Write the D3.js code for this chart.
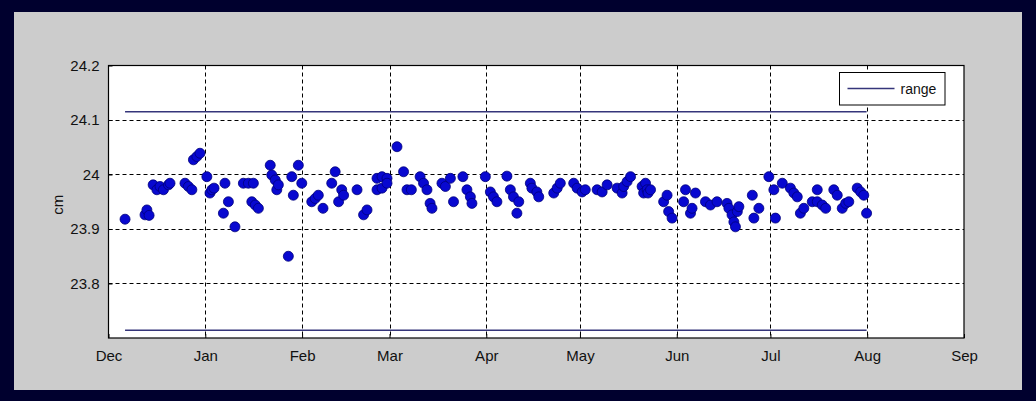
<!DOCTYPE html>
<html>
<head>
<meta charset="utf-8">
<script src="https://cdn.jsdelivr.net/npm/d3@7"></script>
<style>
  html, body { margin: 0; padding: 0; background: #00002e; }
  svg { display: block; }
  text { font-family: "Liberation Sans", Arial, sans-serif; fill: #111; }
</style>
</head>
<body>
<svg id="chart" width="1036" height="401"></svg>
<script>
// Observation times, in days after 1 Dec 2010 (fractional days allowed)
const obsDay = [
  5.3, 11.7, 12.3, 13.0, 14.3, 15.5, 16.5, 17.6, 19.2, 19.7,
  24.5, 25.6, 26.7, 27.2, 28.3, 29.3, 31.5, 32.5, 33.1, 33.8,
  36.8, 37.3, 38.4, 40.5, 43.2, 44.8, 46.4, 45.9, 47.0, 48.0,
  51.8, 52.3, 53.4, 53.9, 54.4, 57.6, 58.7, 59.2, 60.8, 61.9,
  65.1, 66.2, 67.2, 68.7, 71.5, 72.6, 73.7, 74.7, 75.3, 79.6,
  81.7, 82.8, 86.0, 86.0, 87.6, 87.6, 89.2, 89.2, 92.4, 94.5,
  95.6, 97.0, 99.8, 100.9, 102.0, 103.0, 103.6, 106.8, 107.9, 109.5,
  110.5, 113.5, 114.8, 115.9, 116.4, 120.7, 122.3, 123.3, 124.4, 127.6,
  128.7, 129.7, 130.8, 131.4, 135.1, 135.6, 137.2, 137.8, 142.6, 143.7,
  144.7, 149.0, 150.1, 151.7, 152.7, 156.5, 158.1, 159.7, 162.9, 164.5,
  165.0, 166.1, 167.2, 170.9, 171.4, 172.0, 172.5, 172.8, 173.6, 177.8,
  178.9, 179.4, 180.5, 184.2, 184.8, 186.4, 186.9, 188.0, 191.2, 192.8,
  194.9, 198.1, 198.7, 199.7, 200.3, 200.8, 201.4, 201.9, 206.2, 206.7,
  208.3, 211.5, 213.1, 213.6, 215.8, 218.4, 219.5, 220.6, 221.6, 222.7,
  225.4, 227.0, 227.0, 228.6, 229.7, 232.3, 233.4, 235.0, 236.1, 237.1,
  239.8, 240.9, 241.9, 242.8
];

// Measured length in cm for each observation
const obsCm = [
  23.918, 23.926, 23.935, 23.925, 23.981, 23.972, 23.978, 23.972, 23.981, 23.984,
  23.984, 23.978, 23.972, 24.027, 24.033, 24.039, 23.996, 23.966, 23.972, 23.975,
  23.929, 23.984, 23.950, 23.904, 23.984, 23.984, 23.984, 23.950, 23.944, 23.938,
  24.017, 23.999, 23.990, 23.972, 23.981, 23.850, 23.996, 23.962, 24.017, 23.984,
  23.950, 23.956, 23.962, 23.938, 23.984, 24.005, 23.950, 23.972, 23.962, 23.972,
  23.926, 23.935, 23.993, 23.972, 23.996, 23.975, 23.993, 23.984, 24.051, 24.005,
  23.972, 23.972, 23.996, 23.984, 23.972, 23.947, 23.938, 23.984, 23.978, 23.993,
  23.950, 23.996, 23.972, 23.959, 23.947, 23.996, 23.968, 23.959, 23.950, 23.997,
  23.972, 23.959, 23.929, 23.950, 23.984, 23.975, 23.968, 23.959, 23.966, 23.975,
  23.984, 23.984, 23.975, 23.968, 23.972, 23.972, 23.968, 23.981, 23.975, 23.966,
  23.978, 23.987, 23.996, 23.978, 23.966, 23.984, 23.972, 23.966, 23.972, 23.950,
  23.962, 23.932, 23.920, 23.950, 23.972, 23.929, 23.938, 23.966, 23.950, 23.944,
  23.950, 23.947, 23.938, 23.926, 23.913, 23.904, 23.932, 23.941, 23.962, 23.920,
  23.938, 23.996, 23.972, 23.920, 23.984, 23.975, 23.966, 23.959, 23.929, 23.938,
  23.950, 23.950, 23.972, 23.944, 23.938, 23.972, 23.962, 23.938, 23.947, 23.950,
  23.975, 23.968, 23.962, 23.929
];

// Tolerance band drawn as the "range" lines
const rangeLimits = [23.714, 24.115];

// Axis extents and tick labels
const seasonStart = "2010-12-01";
const seasonEnd = "2011-09-01";
const yDomain = [23.7, 24.2];
const yTicks = [23.8, 23.9, 24.0, 24.1, 24.2];
const yLabel = "cm";
const legendLabel = "range";

const svg = d3.select("#chart");
const W = 1036, H = 401;

// Gray figure panel
svg.append("rect")
  .attr("x", 14).attr("y", 12)
  .attr("width", 1008).attr("height", 378)
  .attr("fill", "#cccccc");

const plot = { left: 108.5, right: 964, top: 65.5, bottom: 338 };

const t0 = new Date(seasonStart + "T00:00:00Z");
const t1 = new Date(seasonEnd + "T00:00:00Z");
const toDate = d => new Date(t0.getTime() + d * 864e5);

const x = d3.scaleUtc().domain([t0, t1]).range([plot.left, plot.right]);
const y = d3.scaleLinear().domain(yDomain).range([plot.bottom, plot.top]);

const points = obsDay.map((d, i) => ({ t: toDate(d), v: obsCm[i] }));

// White axes area
svg.append("rect")
  .attr("x", plot.left).attr("y", plot.top)
  .attr("width", plot.right - plot.left).attr("height", plot.bottom - plot.top)
  .attr("fill", "#ffffff");

// Dashed grid
const months = d3.utcMonth.range(t0, d3.utcDay.offset(t1, 1));
const innerMonths = months.filter(m => +m !== +t0 && +m !== +t1);
const gridY = yTicks.filter(v => v < yDomain[1]);

const grid = svg.append("g")
  .attr("stroke", "#000")
  .attr("stroke-width", 1)
  .attr("stroke-dasharray", "4,3");

grid.selectAll("line.gx").data(innerMonths).join("line")
  .attr("class", "gx")
  .attr("x1", d => Math.round(x(d)) + 0.5).attr("x2", d => Math.round(x(d)) + 0.5)
  .attr("y1", plot.top).attr("y2", plot.bottom);

grid.selectAll("line.gy").data(gridY).join("line")
  .attr("class", "gy")
  .attr("x1", plot.left).attr("x2", plot.right)
  .attr("y1", d => Math.round(y(d)) + 0.5).attr("y2", d => Math.round(y(d)) + 0.5);

// Range lines spanning the observation period
const rangeColor = "#35357a";
const firstT = points[0].t;
const lastT = points[points.length - 1].t;
svg.append("g").selectAll("line").data(rangeLimits).join("line")
  .attr("x1", x(firstT)).attr("x2", x(lastT))
  .attr("y1", d => y(d)).attr("y2", d => y(d))
  .attr("stroke", rangeColor)
  .attr("stroke-width", 1.5);

// Observations
svg.append("g").selectAll("circle").data(points).join("circle")
  .attr("cx", d => x(d.t))
  .attr("cy", d => y(d.v))
  .attr("r", 5)
  .attr("fill", "#0808d0")
  .attr("stroke", "#00007a")
  .attr("stroke-width", 0.8);

// Axes box
svg.append("rect")
  .attr("x", plot.left).attr("y", plot.top)
  .attr("width", plot.right - plot.left).attr("height", plot.bottom - plot.top)
  .attr("fill", "none")
  .attr("stroke", "#000")
  .attr("stroke-width", 1.2);

// Bottom axis (month labels)
const xAxis = d3.axisBottom(x)
  .tickValues(months)
  .tickFormat(d3.utcFormat("%b"))
  .tickSizeInner(-4)
  .tickSizeOuter(0)
  .tickPadding(12);

const gx = svg.append("g")
  .attr("transform", `translate(0,${plot.bottom})`)
  .call(xAxis);
gx.select(".domain").remove();
gx.selectAll("line").attr("stroke", "#000");
gx.selectAll("text")
  .attr("font-size", 15)
  .attr("font-family", "Liberation Sans, Arial, sans-serif")
  .attr("fill", "#111");

// Left axis (values)
const yAxis = d3.axisLeft(y)
  .tickValues(yTicks)
  .tickFormat(d => d3.format("")(+d.toFixed(1)))
  .tickSizeInner(-4)
  .tickSizeOuter(0)
  .tickPadding(9);

const gy = svg.append("g")
  .attr("transform", `translate(${plot.left},0)`)
  .call(yAxis);
gy.select(".domain").remove();
gy.selectAll("line").attr("stroke", "#000");
gy.selectAll("text")
  .attr("font-size", 15)
  .attr("font-family", "Liberation Sans, Arial, sans-serif")
  .attr("fill", "#111");

// Y axis title
svg.append("text")
  .attr("transform", `translate(63,${(plot.top + plot.bottom) / 2 + 3}) rotate(-90)`)
  .attr("text-anchor", "middle")
  .attr("font-size", 15)
  .text(yLabel);

// Legend
const lg = svg.append("g");
lg.append("rect")
  .attr("x", 839.5).attr("y", 72.5)
  .attr("width", 105.5).attr("height", 32.5)
  .attr("fill", "#fff")
  .attr("stroke", "#000")
  .attr("stroke-width", 1);
lg.append("line")
  .attr("x1", 847.5).attr("x2", 894.5)
  .attr("y1", 88.5).attr("y2", 88.5)
  .attr("stroke", rangeColor)
  .attr("stroke-width", 1.5);
lg.append("text")
  .attr("x", 900.5).attr("y", 94)
  .attr("font-size", 14)
  .text(legendLabel);
</script>
</body>
</html>
